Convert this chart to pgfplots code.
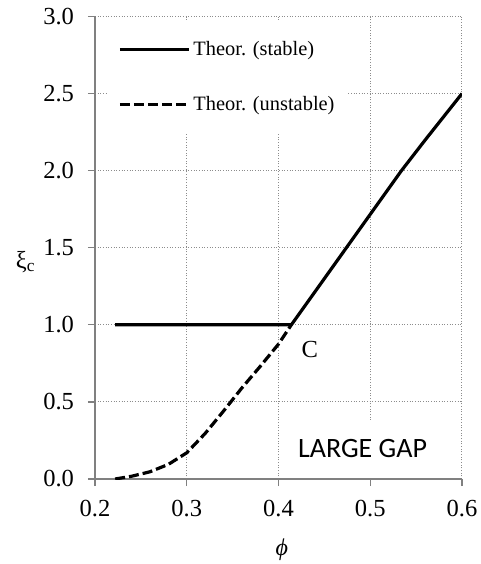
\documentclass[border=0pt]{standalone}
\usepackage{pgfplots}
\pgfplotsset{compat=1.18}
\usepackage{fontspec}
\setmainfont{Liberation Serif}
\newfontfamily\calibri{Carlito}

\pgfplotstableread{
x y
0.222 1.0
0.414 1.0
0.444 1.25
0.474 1.5
0.504 1.75
0.534 2.0
0.560 2.2
0.600 2.5
}\stable

\pgfplotstableread{
x y
0.222 0.0
0.240 0.018
0.260 0.047
0.280 0.095
0.300 0.170
0.320 0.295
0.340 0.440
0.360 0.590
0.380 0.730
0.400 0.875
0.414 1.000
}\unstable

\begin{document}
\begin{tikzpicture}
\useasboundingbox (-71.25pt,-63.75pt) rectangle (288.75pt,359.25pt);
\begin{axis}[
  at={(0,0)}, anchor=south west,
  scale only axis, width=275.25pt, height=346.875pt,
  xmin=0.2, xmax=0.6, ymin=0, ymax=3,
  xtick={0.2,0.3,0.4,0.5,0.6},
  ytick={0,0.5,1,1.5,2,2.5,3},
  /pgf/number format/assume math mode=true,
  xticklabel style={yshift=-7pt, /pgf/number format/fixed, /pgf/number format/fixed zerofill, /pgf/number format/precision=1},
  yticklabel style={xshift=-7pt, /pgf/number format/fixed, /pgf/number format/fixed zerofill, /pgf/number format/precision=1},
  tick label style={font=\fontsize{18.4}{22}\selectfont},
  axis x line*=bottom, axis y line*=left,
  axis line style={draw=black!50, line width=1pt},
  tick style={draw=black!50, line width=1pt},
  tick align=outside, major tick length=5.25pt,
  grid=major,
  major grid style={draw=black!45, line width=0.75pt, dash pattern=on 0.75pt off 1.25pt},
  xlabel={\textit{ϕ}},
  xlabel style={at={(axis description cs:0.509,-0.152)}, anchor=center, font=\fontsize{18}{20}\selectfont},
  ylabel={ξ\raisebox{-0.35ex}{\fontsize{13}{15}\selectfont c}},
  ylabel style={rotate=-90, at={(axis description cs:-0.19,0.47)}, anchor=center, font=\fontsize{18.4}{22}\selectfont},
  legend style={at={(axis description cs:0.0354,0.9925)}, anchor=north west, draw=none, fill=white,
    font=\fontsize{15.3}{18}\selectfont, row sep=25pt, inner xsep=7.5pt, inner ysep=14pt},
  legend cell align=left,
  legend image code/.code={\draw[#1] (0pt,0pt) -- (52pt,0pt);},
]
\addplot[black, line width=2.4pt, line join=round] table[x=x,y=y] {\stable};
\addlegendentry{Theor. (stable)}
\addplot[black, line width=2.4pt, dash pattern=on 7.5pt off 3pt] table[x=x,y=y] {\unstable};
\addlegendentry{Theor. (unstable)}
\node[font=\fontsize{18.4}{22}\selectfont] at (axis cs:0.434,0.84) {C};
\node[fill=white, font=\calibri\fontsize{21}{25}\selectfont, minimum height=43pt, inner xsep=4pt] at (axis cs:0.4916,0.195) {LARGE GAP};
\end{axis}
\end{tikzpicture}
\end{document}
